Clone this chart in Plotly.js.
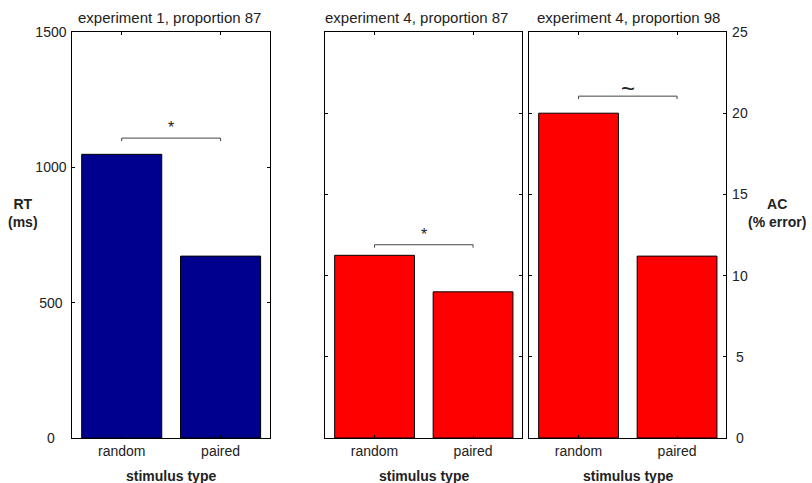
<!DOCTYPE html>
<html>
<head>
<meta charset="utf-8">
<script src="https://cdn.plot.ly/plotly-3.0.1.min.js"></script>
<style>html,body{margin:0;padding:0;background:#fff;}#chart{width:812px;height:483px;}</style>
</head>
<body>
<div id="chart"></div>
<script>
// ---- data ----
var categories = ['random', 'paired'];
var rtExp1 = [1048, 672];          // experiment 1, proportion 87 (ms)
var acExp4p87 = [11.25, 9.0];      // experiment 4, proportion 87 (% error)
var acExp4p98 = [20.0, 11.2];      // experiment 4, proportion 98 (% error)
var panelTitles = ['experiment 1, proportion 87', 'experiment 4, proportion 87', 'experiment 4, proportion 98'];
var bracketHeights = [1108, 11.9, 21.05];
var bracketMarks = ['*', '*', '~'];
var rtTicks = [0, 500, 1000, 1500];
var acTicks = [0, 5, 10, 15, 20, 25];

// ---- style ----
var FONT = '"Liberation Sans", Arial, Helvetica, sans-serif';
var TXT = '#222';
var W = 812, H = 483;
var px = function (x) { return x / W; };
var py = function (y) { return 1 - y / H; };
var yDom = [py(438), py(32)];
var xDoms = [[px(72.3), px(270)], [px(325.3), px(522.3)], [px(529.3), px(726.3)]];
var blue = '#00008f', red = '#ff0000';

var series = [rtExp1, acExp4p87, acExp4p98];
var colors = [blue, red, red];
var axSuffix = ['', '2', '3'];
var tickDrop = [11, 0.18, 0.18];

// centre tick labels (MATLAB style) by padding with no-break spaces
function centred(vals, padRight) {
  var maxLen = Math.max.apply(null, vals.map(function (v) { return String(v).length; }));
  return vals.map(function (v) {
    var s = String(v), pad = new Array(maxLen - s.length + 1).join('\u00a0');
    return padRight ? s + pad : pad + s;
  });
}

var data = [];
series.forEach(function (vals, i) {
  data.push({
    type: 'bar', x: categories, y: vals,
    xaxis: 'x' + axSuffix[i], yaxis: 'y' + axSuffix[i],
    marker: {color: colors[i], line: {color: '#000', width: 1}},
    hoverinfo: 'skip', showlegend: false
  });
  var h = bracketHeights[i];
  data.push({
    type: 'scatter', mode: 'lines',
    x: [categories[0], categories[0], categories[1], categories[1]],
    y: [h - tickDrop[i], h, h, h - tickDrop[i]],
    xaxis: 'x' + axSuffix[i], yaxis: 'y' + axSuffix[i],
    line: {color: '#444', width: 1}, hoverinfo: 'skip', showlegend: false
  });
});

function xax(i) {
  return {
    domain: xDoms[i], anchor: 'y' + axSuffix[i], type: 'category',
    range: [-0.5, 1.5], showline: true, linecolor: '#000', linewidth: 1,
    mirror: 'ticks', ticks: 'inside', ticklen: 3, tickcolor: '#000',
    showgrid: false, zeroline: false, fixedrange: true,
    tickfont: {family: FONT, size: 14, color: TXT}
  };
}
function yax(i, rng, tv, showLabels, side) {
  return {
    domain: yDom, anchor: 'x' + axSuffix[i], range: rng,
    tickmode: 'array', tickvals: tv, ticktext: centred(tv, side === 'left'),
    showticklabels: showLabels, side: side,
    showline: true, linecolor: '#000', linewidth: 1,
    mirror: 'ticks', ticks: 'inside', ticklen: 3, tickcolor: '#000',
    showgrid: false, zeroline: false, fixedrange: true,
    tickfont: {family: FONT, size: 14, color: TXT}, ticklabelstandoff: 2
  };
}

var titleX = [169, 417, 628];
var annotations = [];
panelTitles.forEach(function (t, i) {
  annotations.push({xref: 'paper', yref: 'paper', x: px(titleX[i]), y: py(17),
    xanchor: 'center', yanchor: 'middle', showarrow: false, text: t,
    font: {family: FONT, size: 15, color: TXT}});
  annotations.push({xref: 'paper', yref: 'paper', x: (xDoms[i][0] + xDoms[i][1]) / 2, y: py(476),
    xanchor: 'center', yanchor: 'middle', showarrow: false, text: '<b>stimulus type</b>',
    font: {family: FONT, size: 14, color: TXT}});
  var tilde = bracketMarks[i] === '~';
  annotations.push({xref: 'x' + axSuffix[i], yref: 'y' + axSuffix[i], x: 0.5, y: bracketHeights[i],
    xanchor: 'center', yanchor: 'bottom', yshift: tilde ? -8 : 0, showarrow: false,
    text: bracketMarks[i], font: {family: FONT, size: tilde ? 24 : 16, color: TXT}});
});
annotations.push({xref: 'paper', yref: 'paper', x: px(23), y: py(213), xanchor: 'center', yanchor: 'middle',
  showarrow: false, text: '<b>RT</b><br><b>(ms)</b>', align: 'center',
  font: {family: FONT, size: 14, color: TXT}});
annotations.push({xref: 'paper', yref: 'paper', x: px(777), y: py(213), xanchor: 'center', yanchor: 'middle',
  showarrow: false, text: '<b>AC</b><br><b>(% error)</b>', align: 'center',
  font: {family: FONT, size: 14, color: TXT}});

var layout = {
  width: W, height: H, margin: {l: 0, r: 0, t: 0, b: 0},
  paper_bgcolor: '#fff', plot_bgcolor: '#fff', bargap: 0.19,
  xaxis: xax(0), xaxis2: xax(1), xaxis3: xax(2),
  yaxis: yax(0, [0, 1500], rtTicks, true, 'left'),
  yaxis2: yax(1, [0, 25], acTicks, false, 'left'),
  yaxis3: yax(2, [0, 25], acTicks, true, 'right'),
  annotations: annotations, showlegend: false
};

Plotly.newPlot('chart', data, layout, {displayModeBar: false, staticPlot: true});
</script>
</body>
</html>
